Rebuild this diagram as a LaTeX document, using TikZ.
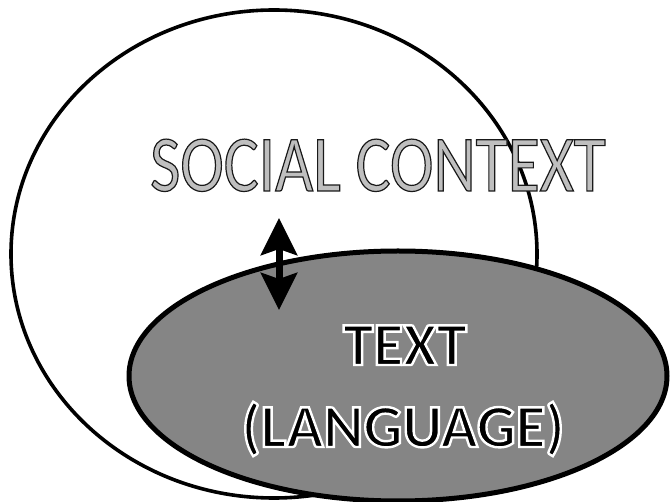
\documentclass[tikz,border=0pt]{standalone}
\usepackage{fontspec}
\setmainfont{Carlito}
\newfontfamily\ctxfont[FakeStretch=0.82]{Carlito}
\usetikzlibrary{shapes.geometric,arrows.meta}
% text drawn with fill and a stroke of given width / rgb stroke colour
\newcommand{\strokedtext}[3]{\special{pdf:literal direct 2 Tr #1 w #2 RG}#3\special{pdf:literal direct 0 Tr 0 0 0 RG}}
\tikzset{
  contextshape/.style={draw=black, line width=3.6pt, ellipse, inner sep=0pt},
  textshape/.style={draw=black, line width=5pt, ellipse, inner sep=0pt, fill=black!48},
  contextlabel/.style={anchor=base, inner sep=0pt, font=\ctxfont\fontsize{80}{80}\selectfont, text=black!25},
  textlabel/.style={anchor=base, inner sep=0pt, font=\bfseries\fontsize{61}{61}\selectfont, text=black},
  linkarrow/.style={line width=7pt, {Stealth[length=37pt,width=36pt,inset=6pt]}-{Stealth[length=37pt,width=36pt,inset=6pt]}}
}
\begin{document}
\begin{tikzpicture}[x=1pt,y=-1pt]
\useasboundingbox (0,0) rectangle (670,502);
\node[contextshape, minimum width=526pt, minimum height=488pt] (context) at (274,254) {};
\node[textshape, minimum width=538pt, minimum height=250pt] (text) at (398,376) {};
\node[contextlabel] (contextlbl) at (378,191) {\strokedtext{1.2}{0.1 0.1 0.1}{SOCIAL CONTEXT}};
\node[textlabel] (textlbl) at (405,365) {\strokedtext{2.4}{1 1 1}{TEXT}};
\node[textlabel] (langlbl) at (403,447) {\strokedtext{2.4}{1 1 1}{(LANGUAGE)}};
\coordinate (arrowtop) at (279,218);
\coordinate (arrowbot) at (279,310);
\draw[linkarrow] (arrowtop) -- (arrowbot);
\end{tikzpicture}
\end{document}
